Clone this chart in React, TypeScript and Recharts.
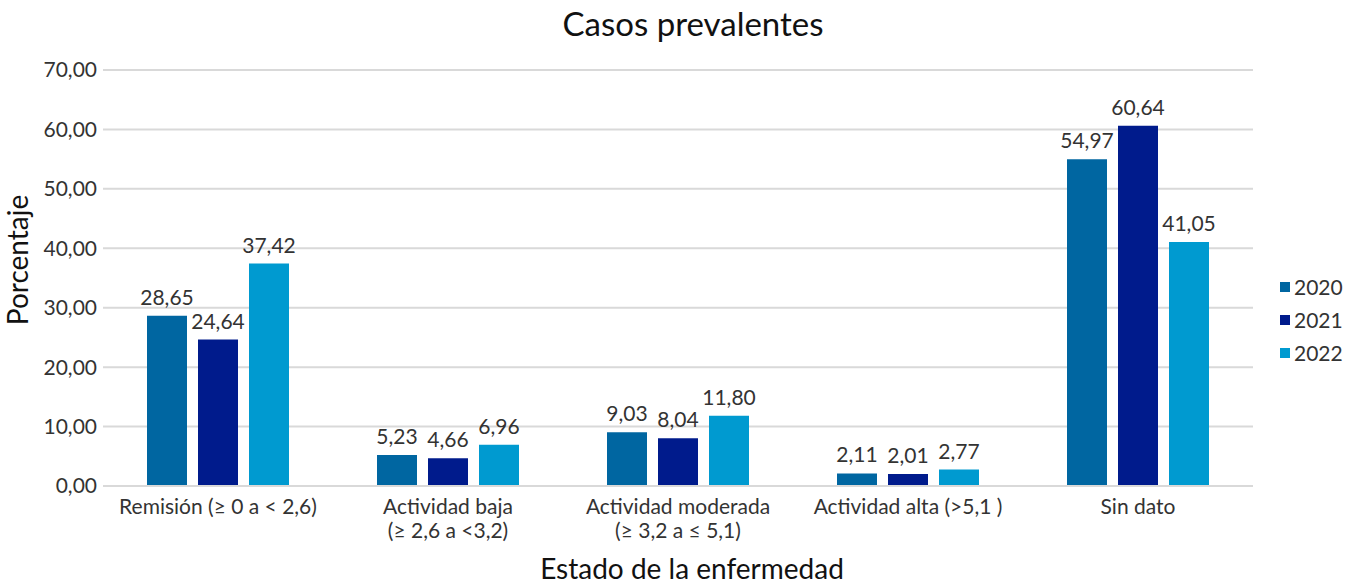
import React from 'react';
import { BarChart, Bar, XAxis, YAxis, CartesianGrid, Legend, LabelList, Label } from 'recharts';

const categories = [
  'Remisión (≥ 0 a < 2,6)',
  'Actividad baja\n(≥ 2,6 a <3,2)',
  'Actividad moderada\n(≥ 3,2 a ≤ 5,1)',
  'Actividad alta (>5,1 )',
  'Sin dato',
];
const values2020 = [28.65, 5.23, 9.03, 2.11, 54.97];
const values2021 = [24.64, 4.66, 8.04, 2.01, 60.64];
const values2022 = [37.42, 6.96, 11.8, 2.77, 41.05];
const seriesNames = ['2020', '2021', '2022'];
const seriesColors = ['#0066a1', '#001b8c', '#009ad0'];
const yTicks = [0, 10, 20, 30, 40, 50, 60, 70];

const data = categories.map((c, i) => ({
  name: c,
  s2020: values2020[i],
  s2021: values2021[i],
  s2022: values2022[i],
}));

const FONT = 'Lato, "Open Sans", sans-serif';
const fmt = (v: number) => v.toFixed(2).replace('.', ',');

const CatTick = (props: any) => {
  const { x, y, payload } = props;
  const lines = String(payload.value).split('\n');
  return (
    <text x={x} y={y} textAnchor="middle" fill="#333" fontSize={21} fontFamily={FONT}>
      {lines.map((l, i) => (
        <tspan key={i} x={x} dy={i === 0 ? 20 : 24}>{l}</tspan>
      ))}
    </text>
  );
};

const LegendContent = () => (
  <div style={{ fontFamily: FONT, fontSize: 21, color: '#333' }}>
    {seriesNames.map((n, i) => (
      <div key={n} style={{ display: 'flex', alignItems: 'center', height: 33 }}>
        <span style={{ width: 10, height: 10, background: seriesColors[i], display: 'inline-block', marginRight: 4 }} />
        <span>{n}</span>
      </div>
    ))}
  </div>
);

export default function App() {
  const keys = ['s2020', 's2021', 's2022'];
  return (
    <div style={{ position: 'absolute', left: 0, top: 0, width: 1353, height: 585, background: '#fff' }}>
      <div style={{ position: 'absolute', left: 0, top: 3, width: 1386, textAlign: 'center', fontFamily: FONT, fontSize: 33, color: '#111' }}>
        Casos prevalentes
      </div>
      <BarChart
        width={1353}
        height={585}
        data={data}
        margin={{ top: 70, right: 20, bottom: 0, left: 0 }}
        barSize={40}
        barGap={11}
      >
        <CartesianGrid vertical={false} stroke="#d9d9d9" strokeWidth={2} />
        <XAxis
          dataKey="name"
          height={99}
          tick={<CatTick />}
          tickLine={false}
          axisLine={{ stroke: '#d9d9d9', strokeWidth: 2 }}
          interval={0}
        >
          <Label value="Estado de la enfermedad" position="insideBottom" offset={6} dx={14} fill="#111" fontSize={28} fontFamily={FONT} />
        </XAxis>
        <YAxis
          width={103}
          domain={[0, 70]}
          ticks={yTicks}
          tickFormatter={fmt}
          tick={{ fill: '#333', fontSize: 21, fontFamily: FONT }}
          tickLine={false}
          tickSize={0}
          axisLine={false}
          tickMargin={6}
        >
          <Label value="Porcentaje" angle={-90} position="insideLeft" offset={18} dy={-18} fill="#111" fontSize={28} fontFamily={FONT} style={{ textAnchor: 'middle' }} />
        </YAxis>
        <Legend layout="vertical" align="right" verticalAlign="middle" width={80} content={<LegendContent />} wrapperStyle={{ top: 270, left: 1280 }} />
        {keys.map((k, i) => (
          <Bar key={k} dataKey={k} name={seriesNames[i]} fill={seriesColors[i]} isAnimationActive={false}>
            <LabelList dataKey={k} position="top" offset={11} formatter={(v: any) => fmt(Number(v))} fill="#333" fontSize={21} fontFamily={FONT} />
          </Bar>
        ))}
      </BarChart>
    </div>
  );
}
